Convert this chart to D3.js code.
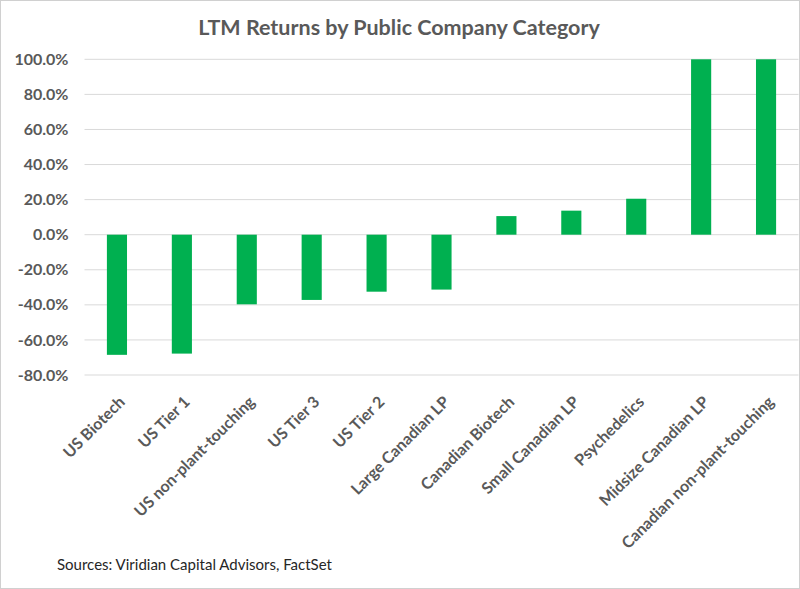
<!DOCTYPE html>
<html>
<head>
<meta charset="utf-8">
<script src="https://cdn.jsdelivr.net/npm/d3@7"></script>
<style>
  body { margin: 0; background: #fff; }
  text { font-family: Lato, "Open Sans", sans-serif; }
</style>
</head>
<body>
<svg id="chart" width="800" height="589"></svg>
<script>
// categories and LTM returns (%); last two run past the axis top
var categories = ["US Biotech", "US Tier 1", "US non-plant-touching", "US Tier 3", "US Tier 2",
    "Large Canadian LP", "Canadian Biotech", "Small Canadian LP", "Psychedelics",
    "Midsize Canadian LP", "Canadian non-plant-touching"];
var returns = [-68.5, -67.8, -39.7, -37.2, -32.5, -31.3, 10.6, 13.7, 20.5, 100, 100];
var yTicks = [-80, -60, -40, -20, 0, 20, 40, 60, 80, 100];

var svg = d3.select("#chart");
var W = 800, H = 589;
var plotLeft = 84.5, plotRight = 798.5, plotTop = 59.3, plotBottom = 375;

// outer frame
svg.append("rect").attr("x", 0.5).attr("y", 0.5).attr("width", W - 1).attr("height", H - 1)
    .attr("fill", "#fff").attr("stroke", "#d0d0d0");

var x = d3.scaleBand().domain(categories).range([plotLeft, plotRight]).paddingInner(0.69).paddingOuter(0.345);
var y = d3.scaleLinear().domain([-80, 100]).range([plotBottom, plotTop]);

// gridlines
svg.append("g").selectAll("line").data(yTicks).enter().append("line")
    .attr("x1", plotLeft).attr("x2", plotRight)
    .attr("y1", function(d) { return y(d); }).attr("y2", function(d) { return y(d); })
    .attr("stroke", "#d9d9d9").attr("stroke-width", 1);

// y axis labels
var yAxis = d3.axisLeft(y).tickValues(yTicks).tickSize(0).tickPadding(16)
    .tickFormat(function(d) { return d.toFixed(1) + "%"; });
var gy = svg.append("g").attr("transform", "translate(" + plotLeft + ",0)").call(yAxis);
gy.select(".domain").remove();
gy.selectAll("text").attr("fill", "#595959").style("font-size", "16px").style("font-weight", "bold")
    .style("font-family", "Lato, sans-serif");

// bars
svg.append("g").selectAll("rect").data(returns).enter().append("rect")
    .attr("x", function(d, i) { return x(categories[i]); })
    .attr("width", x.bandwidth())
    .attr("y", function(d) { return y(Math.max(0, d)); })
    .attr("height", function(d) { return Math.abs(y(d) - y(0)); })
    .attr("fill", "#00b050");

// rotated category labels
svg.append("g").selectAll("text").data(categories).enter().append("text")
    .attr("transform", function(d) {
        var cx = x(d) + x.bandwidth() / 2;
        return "translate(" + (cx + 9) + "," + 403 + ") rotate(-45)";
    })
    .attr("text-anchor", "end")
    .attr("fill", "#595959").style("font-size", "16px").style("font-weight", "bold")
    .text(function(d) { return d; });

// title
svg.append("text").attr("x", 399).attr("y", 35).attr("text-anchor", "middle")
    .attr("fill", "#595959").style("font-size", "21.5px").style("font-weight", "bold")
    .text("LTM Returns by Public Company Category");

// source note
svg.append("text").attr("x", 57).attr("y", 570)
    .attr("fill", "#262626").style("font-size", "15px")
    .text("Sources: Viridian Capital Advisors, FactSet");
</script>
</body>
</html>
